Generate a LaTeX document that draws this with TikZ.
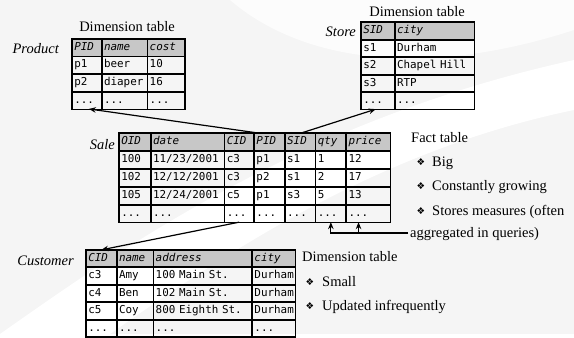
\documentclass[tikz,border=0pt]{standalone}
\usepackage{fontspec}
\setmainfont{Liberation Serif}
\setmonofont{DejaVu Sans Mono}
\newfontfamily\symfont{DejaVu Sans}
\usetikzlibrary{matrix,arrows.meta,calc}
\definecolor{hdr}{gray}{0.78}
\definecolor{bgc}{gray}{0.962}
\newcommand{\tblfont}{\fontsize{10.9}{12}\ttfamily}
\newcommand{\hdrfont}{\fontsize{10.9}{12}\ttfamily\itshape}
\newcommand{\lblfont}{\fontsize{14.5}{16}\selectfont}
\begin{document}
\begin{tikzpicture}[x=1pt,y=-1pt,
  tbl/.style={matrix of nodes, inner sep=0pt, outer sep=0pt, column sep=0pt, row sep=0pt, anchor=north west,
    nodes={draw, line width=0.7pt, inner xsep=2pt, inner ysep=0pt, outer sep=0pt,
      text height=8pt, text depth=2.5pt, font=\tblfont, anchor=center},
    row 1/.style={nodes={fill=hdr, font=\hdrfont}}},
  frame/.style={line width=1.1pt},
  lbl/.style={font=\lblfont, inner sep=0pt},
  tname/.style={font=\lblfont\itshape, inner sep=0pt, anchor=base east},
  bul/.style={font=\symfont\fontsize{9.5}{10}\selectfont, inner sep=0pt},
  arr/.style={line width=1.2pt, -{Stealth[length=7pt,width=5.5pt]}},
  brk/.style={line width=1.1pt}]

% background
\fill[bgc] (0,0) rectangle (574,334);
\fill[white] (0,334) .. controls (120,250) and (300,120) .. (574,60) -- (574,110) .. controls (380,150) and (230,250) .. (110,334) -- cycle;
\fill[white, opacity=0.7] (230,0) .. controls (300,60) and (420,80) .. (574,30) -- (574,0) -- cycle;

% Product
\matrix (product) at (72,38.5) [tbl, nodes={minimum height=17pt},
  column 1/.style={nodes={text width=25pt}},
  column 2/.style={nodes={text width=41pt}},
  column 3/.style={nodes={text width=33pt}}]
{ PID & name & cost \\ p1 & beer & 10 \\ p2 & diaper & 16 \\ ... & ... & ... \\ };
\draw[frame] (product.north west) rectangle (product.south east);

% Store
\matrix (store) at (361,22) [tbl, nodes={minimum height=16.8pt},
  column 1/.style={nodes={text width=29pt}},
  column 2/.style={nodes={text width=75pt}}]
{ SID & city \\ s1 & Durham \\ s2 & Chapel Hill \\ s3 & RTP \\ ... & ... \\ };
\draw[frame] (store.north west) rectangle (store.south east);

% Sale
\matrix (sale) at (119,133) [tbl, nodes={minimum height=17.2pt},
  column 1/.style={nodes={text width=27pt}},
  column 2/.style={nodes={text width=69pt}},
  column 3/.style={nodes={text width=25pt}},
  column 4/.style={nodes={text width=26pt}},
  column 5/.style={nodes={text width=26pt}},
  column 6/.style={nodes={text width=26pt}},
  column 7/.style={nodes={text width=40pt}}]
{ OID & date & CID & PID & SID & qty & price \\
  100 & 11/23/2001 & c3 & p1 & s1 & 1 & 12 \\
  102 & 12/12/2001 & c3 & p2 & s1 & 2 & 17 \\
  105 & 12/24/2001 & c5 & p1 & s3 & 5 & 13 \\
  ... & ... & ... & ... & ... & ... & ... \\ };
\draw[frame] (sale.north west) rectangle (sale.south east);

% Customer
\matrix (customer) at (86,249.5) [tbl, nodes={minimum height=16.8pt},
  column 1/.style={nodes={text width=26pt}},
  column 2/.style={nodes={text width=32pt}},
  column 3/.style={nodes={text width=94pt}},
  column 4/.style={nodes={text width=39pt}}]
{ CID & name & address & city \\
  c3 & Amy & 100 Main St. & Durham \\
  c4 & Ben & 102 Main St. & Durham \\
  c5 & Coy & 800 Eighth St. & Durham \\
  ... & ... & ... & ... \\ };
\draw[frame] (customer.north west) rectangle (customer.south east);

% table names and captions
\node[lbl, anchor=base] (dimP) at (127,31) {Dimension table};
\node[lbl, anchor=base] (dimS) at (417,16) {Dimension table};
\node[tname] (productlbl) at (59,53) {Product};
\node[tname] (storelbl) at (356,36) {Store};
\node[tname] (salelbl) at (115,149) {Sale};
\node[tname] (custlbl) at (74,265) {Customer};

% fact table notes
\node[lbl, anchor=base west] (fact) at (411,142) {Fact table};
\node[bul] (b1) at (421,162) {❖};
\node[lbl, anchor=base west] (t1) at (432,166) {Big};
\node[bul] (b2) at (421,186) {❖};
\node[lbl, anchor=base west] (t2) at (432,190) {Constantly growing};
\node[bul] (b3) at (421,211) {❖};
\node[lbl, anchor=base west] (t3) at (432,215) {Stores measures (often};
\node[lbl, anchor=base west] (t4) at (410,237) {aggregated in queries)};

% dimension table notes
\node[lbl, anchor=base west] (dimC) at (302,261) {Dimension table};
\node[bul] (b4) at (310,282) {❖};
\node[lbl, anchor=base west] (t5) at (322,286) {Small};
\node[bul] (b5) at (310,306) {❖};
\node[lbl, anchor=base west] (t6) at (322,310) {Updated infrequently};

% foreign key arrows
\draw[arr] ($(sale-1-4.north west)!0.2!(sale-1-4.north east)$) -- ($(product-4-1.south)+(2,0)$);
\draw[arr] (sale-1-5.north) -- ($(store-5-1.south)+(-2,0)$);
\draw[arr] (sale-5-3.south) -- (customer-1-1.north);

% measures bracket
\coordinate (bend) at (408,233);
\coordinate (qa) at ($(sale-5-6.south west)+(15,0)$);
\coordinate (pa) at ($(sale-5-7.south west)+(12,0)$);
\draw[arr] (bend) -| (qa);
\draw[arr] (pa |- bend) -- (pa);
\end{tikzpicture}
\end{document}
